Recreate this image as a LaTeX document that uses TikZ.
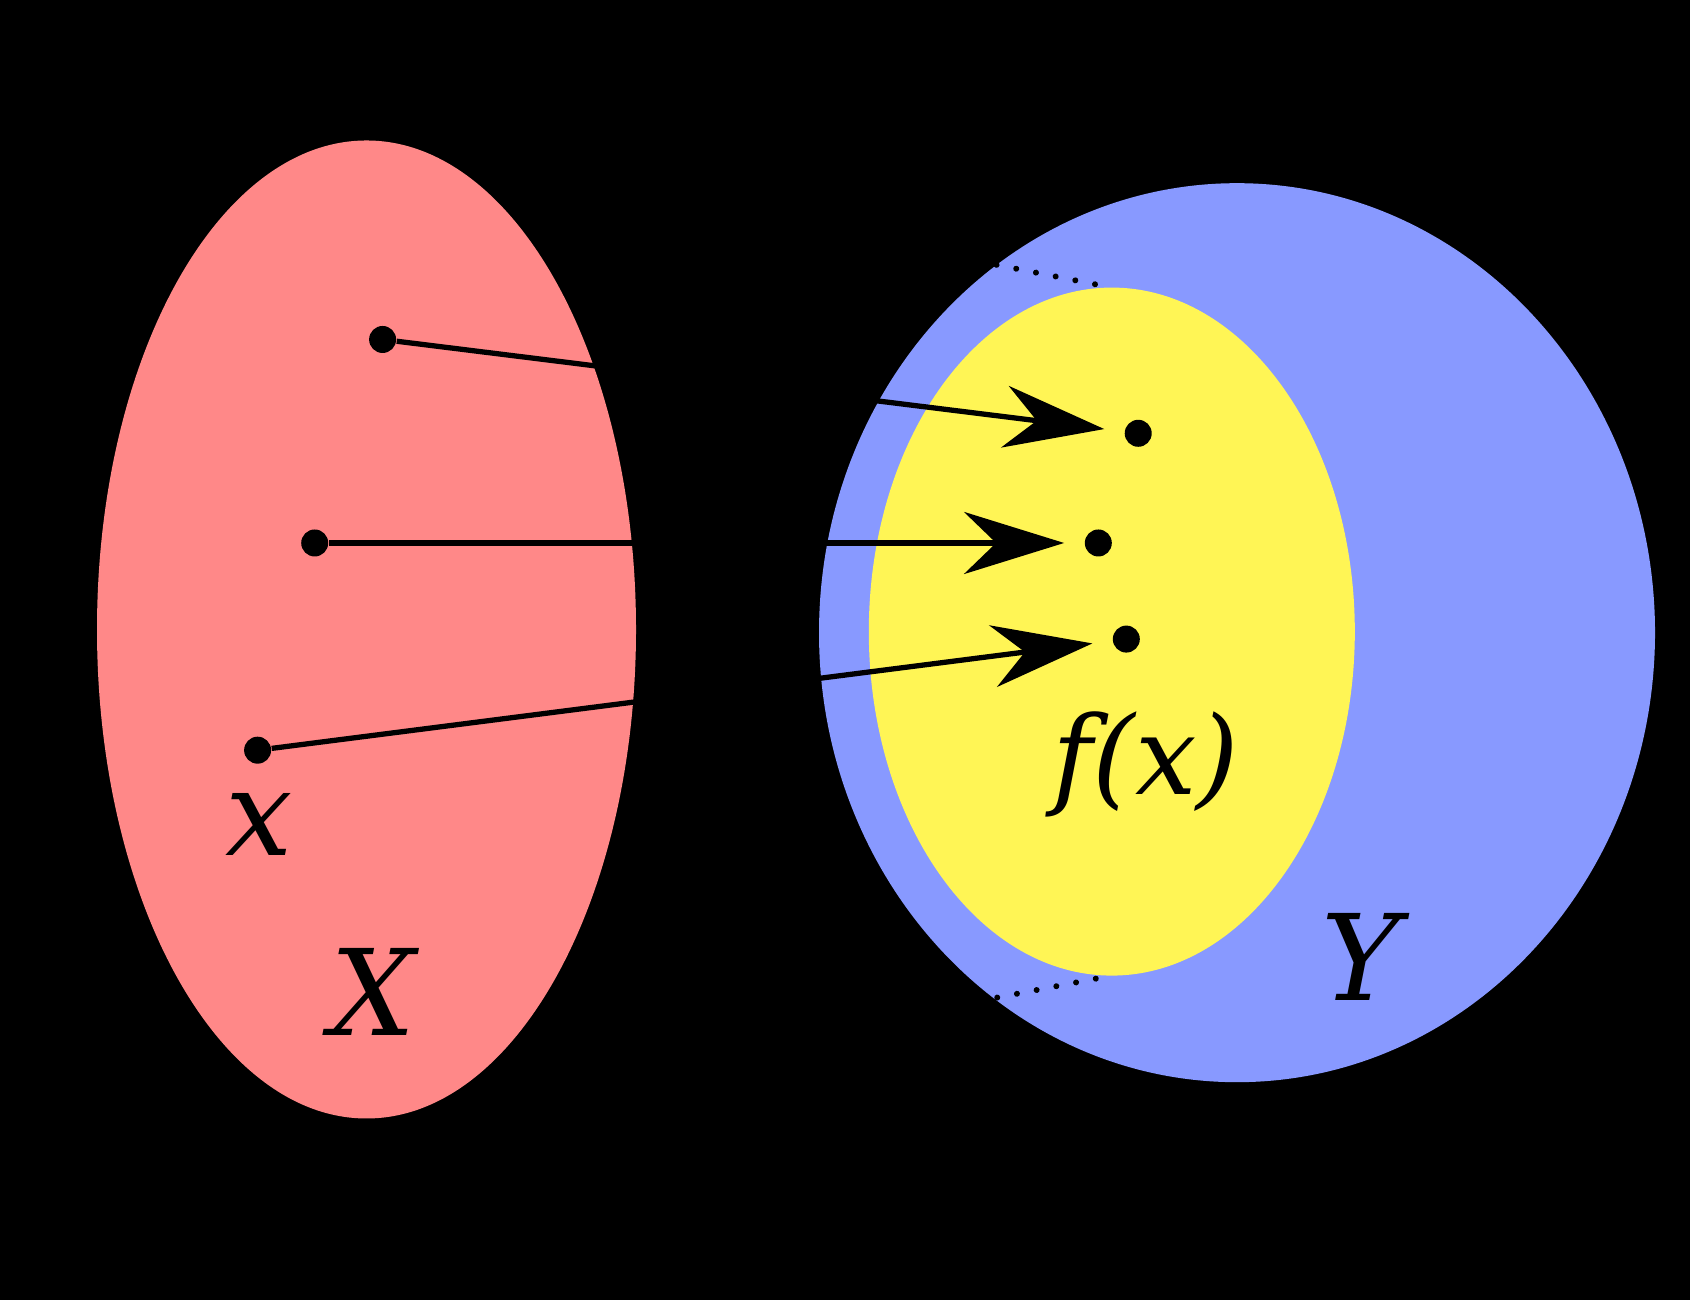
\documentclass[tikz,border=0pt]{standalone}
\usepackage{fontspec}
\setmainfont{DejaVu Serif}
\usetikzlibrary{arrows.meta, positioning, shapes.geometric}
\definecolor{setred}{RGB}{255,136,136}
\definecolor{setblue}{RGB}{136,153,255}
\definecolor{setyellow}{RGB}{255,245,85}
\begin{document}
\begin{tikzpicture}[
  set/.style={ellipse, inner sep=0pt},
  pt/.style={circle, fill=black, inner sep=0pt, minimum size=0.27cm},
  map/.style={line width=1.5pt, -{Stealth[length=1cm, width=0.62cm, inset=0.32cm]}, shorten >=0.2cm},
  hull/.style={line width=1.7pt, dash pattern=on 0.01pt off 5.7pt, line cap=round},
  lab/.style={font=\fontsize{34}{40}\selectfont\itshape, inner sep=0pt}
]
  \useasboundingbox (0,0) rectangle (16.9,13);
  \fill[black] (0,0) rectangle (16.9,13);

  % Codomain Y
  \node[set, fill=setblue, minimum width=8.36cm, minimum height=8.99cm] (cod) at (12.37,6.673) {};

  % Dotted hull lines, from top and bottom of X to top and bottom of f(X)
  \coordinate (domtop) at (3.665,11.595);
  \coordinate (dombot) at (3.665,1.815);
  \coordinate (imgtop) at (11.118,10.124);
  \coordinate (imgbot) at (11.118,3.244);
  \draw[hull] (domtop) -- (imgtop);
  \draw[hull] (dombot) -- (imgbot);

  % Domain X and image f(X)
  \node[set, fill=setred, minimum width=5.39cm, minimum height=9.78cm] (dom) at (3.665,6.705) {};
  \node[set, fill=setyellow, minimum width=4.86cm, minimum height=6.88cm] (img) at (11.118,6.684) {};

  % Points
  \node[pt] (a1) at (3.826,9.605) {};
  \node[pt] (a2) at (3.147,7.57) {};
  \node[pt] (a3) at (2.576,5.498) {};
  \node[pt] (b1) at (11.382,8.667) {};
  \node[pt] (b2) at (10.983,7.57) {};
  \node[pt] (b3) at (11.263,6.609) {};

  % Arrows
  \draw[map] (a1) -- (b1);
  \draw[map] (a2) -- (b2);
  \draw[map] (a3) -- (b3);

  % Labels
  \node[lab] (xlab) at (2.587,4.755) {x};
  \node[lab] (Xlab) at (3.73,3.084) {X};
  \node[lab, font=\fontsize{31}{37}\selectfont\itshape] (fxlab) at (11.46,5.36) {f(x)};
  \node[lab] (Ylab) at (13.61,3.43) {Y};
\end{tikzpicture}
\end{document}
